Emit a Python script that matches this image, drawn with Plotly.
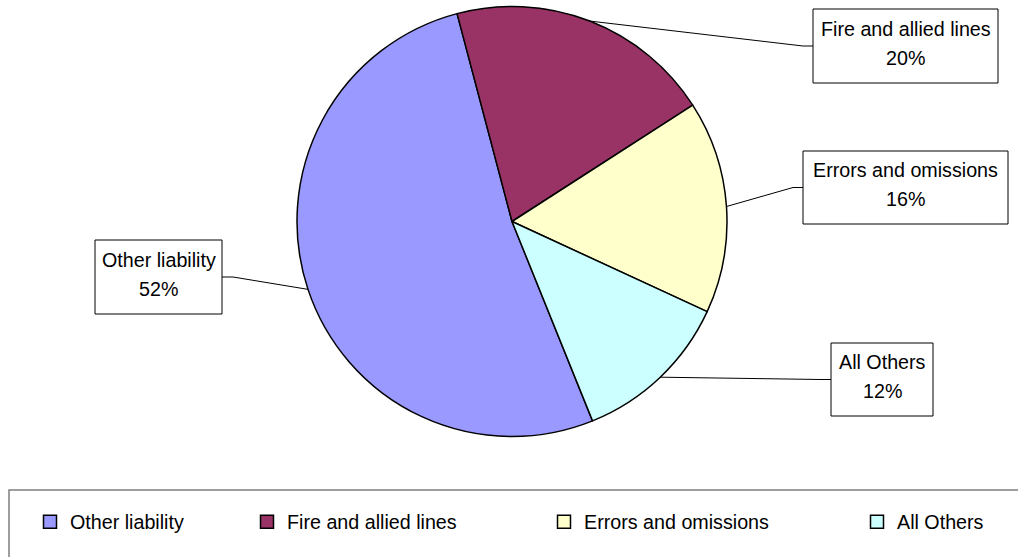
import math
import plotly.graph_objects as go

# Share of premiums by line of business
categories = ["Other liability", "Fire and allied lines", "Errors and omissions", "All Others"]
shares = [52, 20, 16, 12]
colors = ["#9999FF", "#993366", "#FFFFCC", "#CCFFFF"]

W, H = 1018, 557
FONT = dict(family="Liberation Sans, Arial, sans-serif", size=19.7, color="black")

# pie geometry in pixels
CX, CY, R = 512, 221.5, 215
ROTATION = 158  # start angle of the first slice, clockwise from 12 o'clock


def px(x):
    return x / W


def py(y):
    return 1 - y / H


fig = go.Figure()
fig.add_trace(go.Pie(
    labels=categories,
    values=shares,
    sort=False,
    direction="clockwise",
    rotation=ROTATION,
    marker=dict(colors=colors, line=dict(color="black", width=1.5)),
    textinfo="none",
    hoverinfo="label+percent",
    showlegend=False,
    domain=dict(x=[px(CX - R), px(CX + R)], y=[py(CY + R), py(CY - R)]),
))

# label boxes: (left, top, right, bottom) in pixels, side the leader attaches to
boxes = {
    "Other liability": ((95, 240, 222, 314), "right"),
    "Fire and allied lines": ((813, 9, 998, 83), "left"),
    "Errors and omissions": ((803, 151, 1008, 224), "left"),
    "All Others": ((831, 343, 933, 416), "left"),
}

shapes = []
annotations = []
total = sum(shares)
acc = 0
for cat, val in zip(categories, shares):
    mid = math.radians(ROTATION + (acc + val / 2) / total * 360)
    acc += val
    ex, ey = CX + R * math.sin(mid), CY - R * math.cos(mid)
    (l, t, r, b), side = boxes[cat]
    ym = (t + b) / 2
    if side == "left":
        bx, elx = l, l - 10
    else:
        bx, elx = r, r + 11
    # leader line: slice edge -> elbow -> box
    shapes.append(dict(type="line", xref="paper", yref="paper",
                       x0=px(ex), y0=py(ey), x1=px(elx), y1=py(ym),
                       line=dict(color="black", width=1), layer="above"))
    shapes.append(dict(type="line", xref="paper", yref="paper",
                       x0=px(elx), y0=py(ym), x1=px(bx), y1=py(ym),
                       line=dict(color="black", width=1), layer="above"))
    shapes.append(dict(type="rect", xref="paper", yref="paper",
                       x0=px(l), y0=py(b), x1=px(r), y1=py(t),
                       fillcolor="white", line=dict(color="black", width=1),
                       layer="above"))
    for text, dy in ((cat, -17.5), (f"{val}%", 11.5)):
        annotations.append(dict(xref="paper", yref="paper",
                                x=px((l + r) / 2), y=py(ym + dy),
                                xanchor="center", yanchor="middle",
                                text=text, showarrow=False, font=FONT))

# legend frame
shapes.append(dict(type="rect", xref="paper", yref="paper",
                   x0=px(9), y0=py(580), x1=px(1040), y1=py(490),
                   line=dict(color="#7f7f7f", width=1.5), fillcolor="rgba(0,0,0,0)",
                   layer="below"))

# one legend per entry so each sits at its own position
legend_x = [30, 247, 544, 857]
legend_layout = {}
for i, (cat, col, lx) in enumerate(zip(categories, colors, legend_x)):
    key = "legend" if i == 0 else f"legend{i + 1}"
    fig.add_trace(go.Scatter(
        x=[None], y=[None], mode="markers", name=cat, legend=key,
        marker=dict(symbol="square", size=13, color=col,
                    line=dict(color="black", width=1.5)),
        showlegend=True, hoverinfo="skip",
    ))
    legend_layout[key] = dict(x=px(lx), y=py(522), xanchor="left", yanchor="middle",
                              bgcolor="rgba(0,0,0,0)", borderwidth=0, font=FONT,
                              itemclick=False, itemdoubleclick=False)

fig.update_layout(
    width=W, height=H,
    margin=dict(l=0, r=0, t=0, b=0),
    paper_bgcolor="white", plot_bgcolor="white",
    xaxis=dict(visible=False), yaxis=dict(visible=False),
    shapes=shapes, annotations=annotations,
    **legend_layout,
)

fig.write_html("out.html")
